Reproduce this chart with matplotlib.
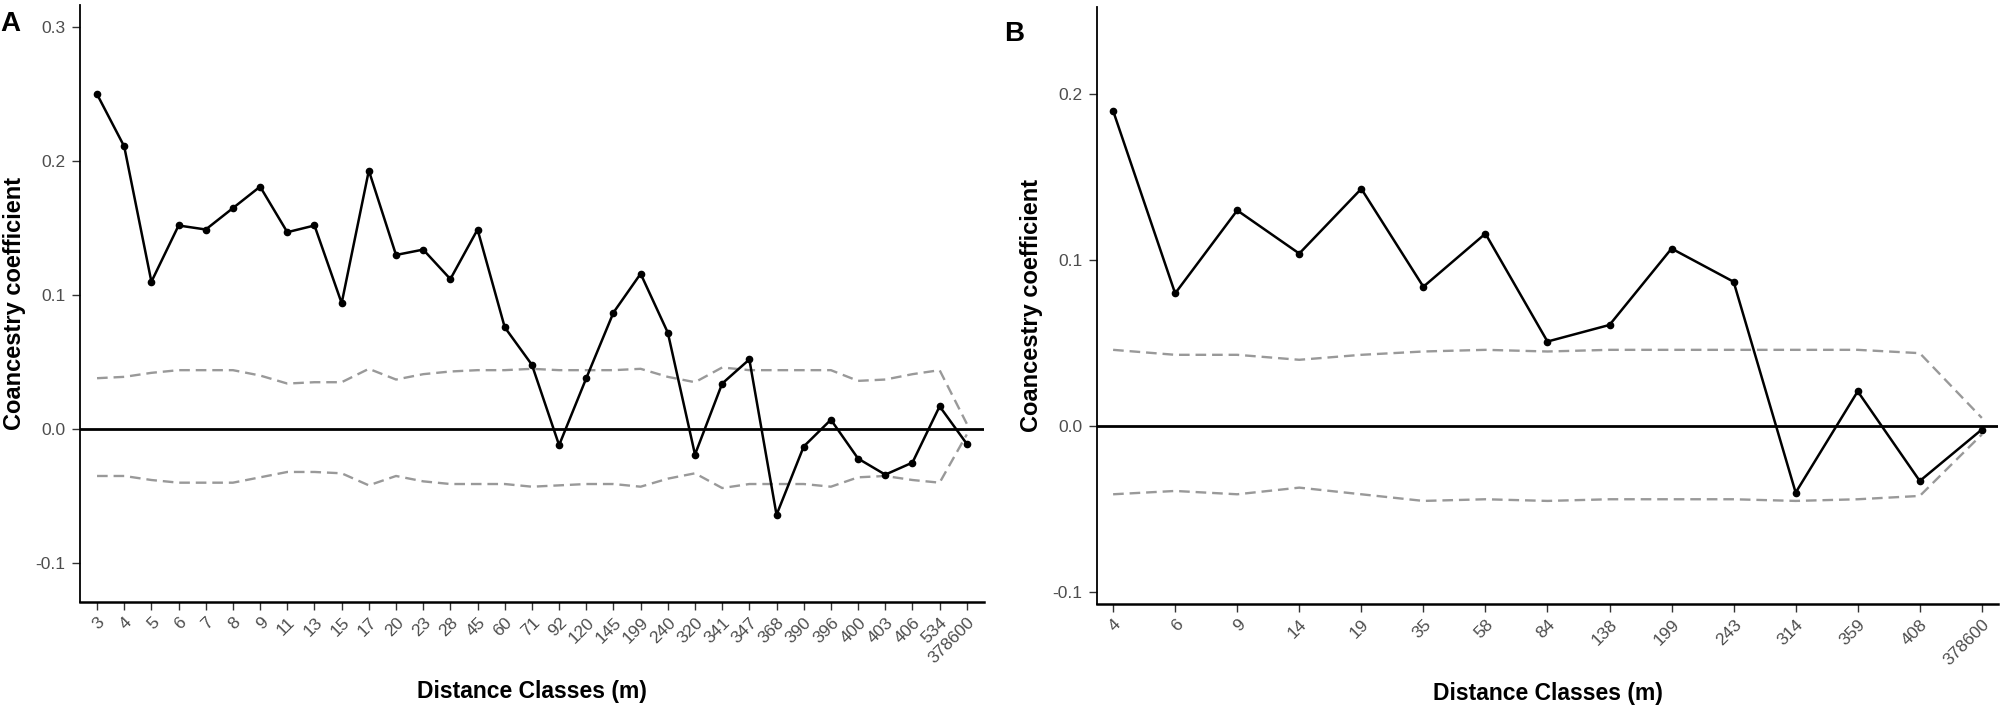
import numpy as np
import matplotlib
matplotlib.use("Agg")
import matplotlib.pyplot as plt

plt.rcParams['font.family'] = ['Liberation Sans', 'DejaVu Sans']

# panel A
classes_a = ["3", "4", "5", "6", "7", "8", "9", "11", "13", "15", "17", "20", "23", "28",
             "45", "60", "71", "92", "120", "145", "199", "240", "320", "341", "347", "368",
             "390", "396", "400", "403", "406", "534", "378600"]
coef_a = [0.250, 0.211, 0.110, 0.152, 0.149, 0.165, 0.181, 0.147, 0.152, 0.094, 0.193,
          0.130, 0.134, 0.112, 0.149, 0.076, 0.048, -0.012, 0.038, 0.087, 0.116, 0.072,
          -0.019, 0.034, 0.052, -0.064, -0.013, 0.007, -0.022, -0.034, -0.025, 0.017, -0.011]
upper_a = [0.038, 0.039, 0.042, 0.044, 0.044, 0.044, 0.040, 0.034, 0.035, 0.035, 0.045,
           0.037, 0.041, 0.043, 0.044, 0.044, 0.045, 0.044, 0.044, 0.044, 0.045, 0.039,
           0.035, 0.046, 0.044, 0.044, 0.044, 0.044, 0.036, 0.037, 0.041, 0.044, 0.004]
lower_a = [-0.035, -0.035, -0.038, -0.040, -0.040, -0.040, -0.036, -0.032, -0.032, -0.033,
           -0.042, -0.035, -0.039, -0.041, -0.041, -0.041, -0.043, -0.042, -0.041, -0.041,
           -0.043, -0.037, -0.033, -0.044, -0.041, -0.041, -0.041, -0.043, -0.036, -0.035,
           -0.038, -0.040, -0.004]

# panel B
classes_b = ["4", "6", "9", "14", "19", "35", "58", "84", "138", "199", "243", "314",
             "359", "408", "378600"]
coef_b = [0.190, 0.080, 0.130, 0.104, 0.143, 0.084, 0.116, 0.051, 0.061, 0.107, 0.087,
          -0.040, 0.021, -0.033, -0.002]
upper_b = [0.046, 0.043, 0.043, 0.040, 0.043, 0.045, 0.046, 0.045, 0.046, 0.046, 0.046,
           0.046, 0.046, 0.044, 0.005]
lower_b = [-0.041, -0.039, -0.041, -0.037, -0.041, -0.045, -0.044, -0.045, -0.044, -0.044,
           -0.044, -0.045, -0.044, -0.042, -0.005]

fig = plt.figure(figsize=(20.08, 7.14), dpi=100)

def draw_panel(rect, labels, coef, up, lo, yticks, ylim, xpad, letter, letter_xy):
    ax = fig.add_axes(rect)
    x = np.arange(len(labels))
    ax.axhline(0, color='black', lw=2.0, zorder=2)
    ax.plot(x, up, ls=(0, (4.5, 2.5)), color='#999999', lw=1.7, zorder=1)
    ax.plot(x, lo, ls=(0, (4.5, 2.5)), color='#999999', lw=1.7, zorder=1)
    ax.plot(x, coef, color='black', lw=1.8, marker='o', ms=4.5, zorder=3)
    ax.set_xlim(-xpad, len(labels) - 1 + xpad)
    ax.set_ylim(*ylim)
    ax.set_xticks(x)
    ax.set_xticklabels(labels, rotation=45, ha='right', va='top',
                       rotation_mode='anchor', color='#4d4d4d', fontsize=12.5)
    ax.set_yticks(yticks)
    ax.set_yticklabels([f"{t:.1f}" for t in yticks], color='#4d4d4d', fontsize=12.5)
    ax.tick_params(axis='both', length=5.5, width=1, color='#333333', pad=4)
    ax.tick_params(axis='y', pad=5)
    for s in ['top', 'right']:
        ax.spines[s].set_visible(False)
    ax.spines['left'].set_linewidth(1.3)
    ax.spines['bottom'].set_linewidth(1.8)
    ax.set_xlabel("Distance Classes (m)", fontsize=16.5, fontweight='bold', labelpad=10)
    ax.set_ylabel("Coancestry coefficient", fontsize=17, fontweight='bold', labelpad=7)
    fig.text(letter_xy[0], letter_xy[1], letter, fontsize=20, fontweight='bold',
             ha='left', va='center')
    return ax

draw_panel([0.0398, 0.157, 0.4502, 0.836], classes_a, coef_a, upper_a, lower_a,
           [-0.1, 0.0, 0.1, 0.2, 0.3], (-0.129, 0.3166), 0.63, "A", (0.0, 1 - 24 / 714))
draw_panel([0.5463, 0.1545, 0.4487, 0.835], classes_b, coef_b, upper_b, lower_b,
           [-0.1, 0.0, 0.1, 0.2], (-0.1069, 0.2522), 0.26, "B", (0.5, 1 - 34 / 714))

fig.savefig("out.png", dpi=100, facecolor='white')
